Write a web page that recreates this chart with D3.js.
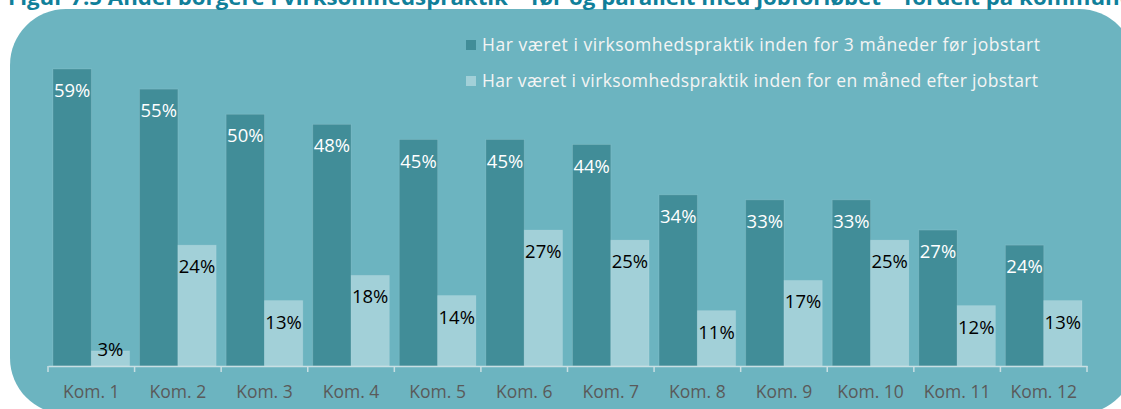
<!DOCTYPE html>
<html>
<head>
<meta charset="utf-8">
<script src="https://cdn.jsdelivr.net/npm/d3@7"></script>
<style>
  body { margin: 0; background: #fff; }
  svg { display: block; font-family: "Open Sans", sans-serif; }
</style>
</head>
<body>
<div class="svg-container"></div>
<script>
const width = 1121, height = 409;

// data
const categories = ["Kom. 1", "Kom. 2", "Kom. 3", "Kom. 4", "Kom. 5", "Kom. 6",
                    "Kom. 7", "Kom. 8", "Kom. 9", "Kom. 10", "Kom. 11", "Kom. 12"];
const before = [59, 55, 50, 48, 45, 45, 44, 34, 33, 33, 27, 24];
const after = [3, 24, 13, 18, 14, 27, 25, 11, 17, 25, 12, 13];
const seriesNames = [
  "Har været i virksomhedspraktik inden for 3 måneder før jobstart",
  "Har været i virksomhedspraktik inden for en måned efter jobstart"
];
const colors = ["#418d98", "#a2d0d8"];
const labelColors = ["#ffffff", "#000000"];

const svg = d3.select('.svg-container')
  .append('svg')
  .attr('width', width)
  .attr('height', height);

// rounded teal panel
svg.append('rect')
  .attr('x', 10).attr('y', 9)
  .attr('width', 1125).attr('height', 405)
  .attr('rx', 56).attr('ry', 56)
  .attr('fill', '#6cb4c0');

// title, mostly cut off by the top edge (as in the original)
svg.append('text')
  .attr('x', 8).attr('y', 5)
  .attr('fill', '#10809a')
  .attr('font-weight', 'bold')
  .attr('font-size', 21)
  .attr('textLength', 1135)
  .attr('lengthAdjust', 'spacingAndGlyphs')
  .text("Figur 7.5 Andel borgere i virksomhedspraktik – før og parallelt med jobforløbet – fordelt på kommuner");

const base = 366;
const x0 = d3.scaleBand().domain(categories).range([48, 1087]);
const x1 = d3.scaleBand().domain([0, 1]).range([5, x0.bandwidth() - 5]);
const y = d3.scaleLinear().domain([0, 60]).range([base, 64]);

const rows = categories.map((c, i) => ({cat: c, vals: [before[i], after[i]]}));

const groups = svg.selectAll('.grp')
  .data(rows)
  .enter().append('g')
    .attr('class', 'grp')
    .attr('transform', d => `translate(${x0(d.cat)},0)`);

const cells = groups.selectAll('g.cell')
  .data(d => d.vals.map((v, k) => ({v, k})))
  .enter().append('g').attr('class', 'cell');

cells.append('rect')
  .attr('x', d => x1(d.k))
  .attr('y', d => y(d.v))
  .attr('width', x1.bandwidth())
  .attr('height', d => base - y(d.v))
  .attr('fill', d => colors[d.k])
  .attr('stroke', 'rgba(255,255,255,0.12)')
  .attr('stroke-width', 1);

cells.append('text')
  .attr('x', d => x1(d.k) + x1.bandwidth() / 2)
  .attr('y', d => Math.min(y(d.v) + 28, base - 10))
  .attr('text-anchor', 'middle')
  .attr('font-size', 18.5)
  .attr('fill', d => labelColors[d.k])
  .text(d => d.v + '%');

// x axis
const axis = svg.append('g')
  .attr('transform', `translate(0,${base})`)
  .call(d3.axisBottom(x0).tickSize(0).tickPadding(20));
axis.select('.domain').attr('stroke', '#c8dfe3').attr('stroke-width', 1.5);
axis.selectAll('text')
  .attr('font-size', 17.5)
  .attr('fill', '#5a5a5a')
  .attr('font-family', '"Open Sans", sans-serif');

// tick marks on the band boundaries
const bounds = categories.map(c => x0(c)).concat([x0.range()[1]]);
svg.selectAll('.tk')
  .data(bounds)
  .enter().append('line')
    .attr('x1', d => d).attr('x2', d => d)
    .attr('y1', base).attr('y2', base + 6)
    .attr('stroke', '#c8dfe3').attr('stroke-width', 1.5);

// legend
const legend = svg.selectAll('.legend')
  .data(seriesNames)
  .enter().append('g')
    .attr('class', 'legend')
    .attr('transform', (d, i) => `translate(466,${51 + i * 36})`);

legend.append('rect')
  .attr('x', 0).attr('y', -11)
  .attr('width', 10).attr('height', 10)
  .attr('fill', (d, i) => colors[i]);

legend.append('text')
  .attr('x', 16)
  .attr('y', 0)
  .attr('font-size', 17.5)
  .attr('fill', '#f4f4f4')
  .attr('textLength', (d, i) => i === 0 ? 558 : 556)
  .text(d => d);
</script>
</body>
</html>
